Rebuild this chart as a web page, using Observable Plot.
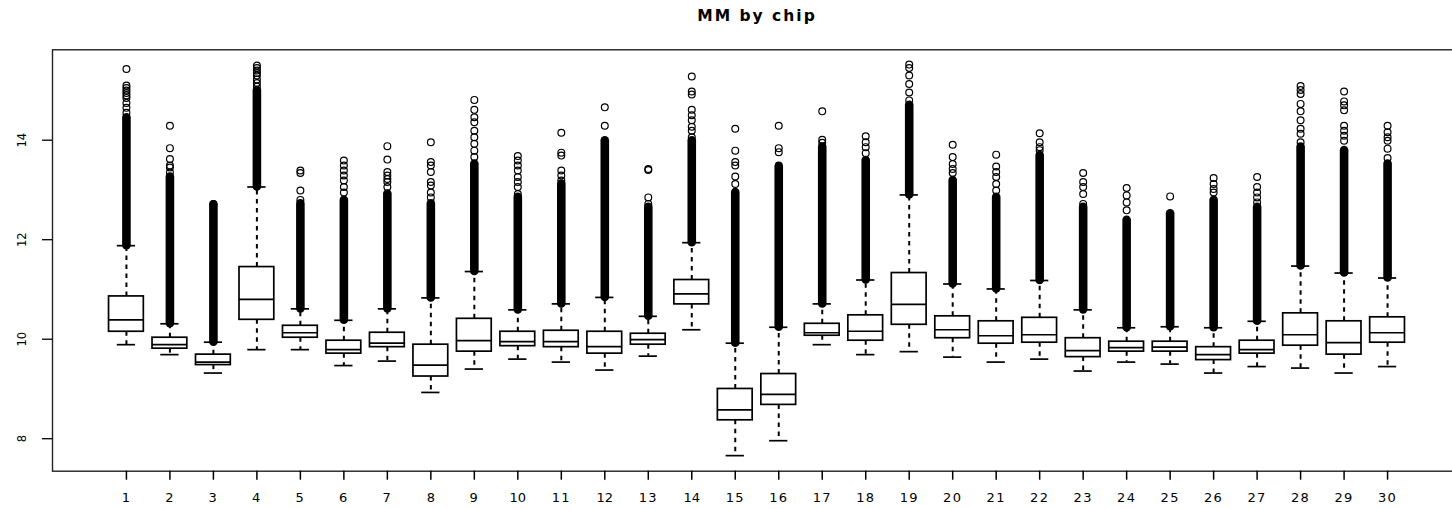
<!DOCTYPE html>
<html>
<head>
<meta charset="utf-8">
<script src="https://cdn.jsdelivr.net/npm/d3@7"></script>
<script src="https://cdn.jsdelivr.net/npm/@observablehq/plot@0.6"></script>
<style>
  html, body { margin: 0; padding: 0; background: #fff; overflow: hidden; }
  #chart svg { display: block; overflow: hidden; }
</style>
</head>
<body>
<div id="chart"></div>
<script>
// MM intensity (log2) summaries per chip
const chips = d3.range(1, 31);
const lowerWhisker = [9.89, 9.69, 9.32, 9.79, 9.79, 9.47, 9.56, 8.93, 9.40, 9.60,
                      9.54, 9.38, 9.66, 10.19, 7.66, 7.96, 9.89, 9.69, 9.75, 9.64,
                      9.54, 9.60, 9.36, 9.54, 9.50, 9.32, 9.45, 9.42, 9.32, 9.45];
const lowerHinge   = [10.15, 9.81, 9.48, 10.39, 10.03, 9.71, 9.84, 9.25, 9.75, 9.86,
                      9.84, 9.71, 9.89, 10.70, 8.37, 8.68, 10.07, 9.97, 10.29, 10.02,
                      9.91, 9.93, 9.64, 9.75, 9.75, 9.58, 9.71, 9.87, 9.69, 9.93];
const median       = [10.39, 9.89, 9.54, 10.80, 10.13, 9.79, 9.92, 9.48, 9.97, 9.95,
                      9.95, 9.85, 9.99, 10.91, 8.58, 8.89, 10.13, 10.16, 10.70, 10.19,
                      10.07, 10.09, 9.77, 9.83, 9.84, 9.69, 9.79, 10.09, 9.93, 10.13];
const upperHinge   = [10.86, 10.03, 9.69, 11.45, 10.27, 9.97, 10.13, 9.89, 10.41, 10.15,
                      10.17, 10.15, 10.11, 11.19, 9.00, 9.30, 10.31, 10.48, 11.33, 10.46,
                      10.36, 10.43, 10.02, 9.95, 9.95, 9.84, 9.97, 10.52, 10.36, 10.44];
const upperWhisker = [11.88, 10.31, 9.94, 13.06, 10.61, 10.38, 10.61, 10.83, 11.36, 10.59,
                      10.71, 10.84, 10.46, 11.94, 9.92, 10.24, 10.71, 11.19, 12.90, 11.11,
                      11.01, 11.18, 10.59, 10.23, 10.25, 10.23, 10.36, 11.47, 11.33, 11.23];
// Outliers are so dense above the whisker that they merge into a solid run up to this value
const denseOutlierTop = [14.45, 13.26, 12.70, 15.00, 12.72, 12.79, 12.92, 12.72, 13.52, 12.85,
                         13.12, 13.99, 12.65, 13.99, 12.95, 13.46, 13.86, 13.59, 14.70, 13.19,
                         12.85, 13.69, 12.65, 12.39, 12.52, 12.79, 12.65, 13.86, 13.79, 13.52];
// Separate outliers above the solid run
const sparseOutliers = [
  [14.55, 14.65, 14.75, 14.85, 14.90, 14.95, 15.00, 15.05, 15.10, 15.43],
  [13.35, 13.45, 13.49, 13.62, 13.84, 14.29],
  [12.72],
  [15.08, 15.15, 15.22, 15.30, 15.35, 15.40, 15.45, 15.50],
  [12.80, 12.99, 13.34, 13.39],
  [12.95, 13.06, 13.19, 13.29, 13.39, 13.49, 13.59],
  [13.06, 13.16, 13.22, 13.29, 13.36, 13.61, 13.88],
  [12.85, 12.95, 13.09, 13.16, 13.36, 13.49, 13.56, 13.96],
  [13.66, 13.79, 13.93, 14.06, 14.19, 14.36, 14.46, 14.61, 14.81],
  [12.92, 13.06, 13.16, 13.26, 13.39, 13.49, 13.59, 13.68],
  [13.19, 13.29, 13.39, 13.69, 13.75, 14.15],
  [14.29, 14.66],
  [12.72, 12.85, 13.40, 13.42],
  [14.06, 14.19, 14.27, 14.40, 14.50, 14.61, 14.92, 14.98, 15.28],
  [13.12, 13.27, 13.49, 13.56, 13.79, 14.23],
  [13.49, 13.76, 13.84, 14.29],
  [13.95, 14.01, 14.58],
  [13.74, 13.86, 13.96, 14.08],
  [14.80, 14.96, 15.13, 15.30, 15.45, 15.52],
  [13.34, 13.42, 13.52, 13.66, 13.91],
  [12.99, 13.12, 13.26, 13.36, 13.47, 13.71],
  [13.80, 13.86, 13.96, 14.14],
  [12.72, 12.92, 13.06, 13.16, 13.34],
  [12.59, 12.75, 12.89, 13.04],
  [12.87],
  [12.95, 13.02, 13.12, 13.24],
  [12.75, 12.85, 12.95, 13.06, 13.26],
  [13.96, 14.13, 14.23, 14.40, 14.58, 14.73, 14.93, 15.01, 15.09],
  [13.99, 14.09, 14.19, 14.29, 14.60, 14.70, 14.78, 14.98],
  [13.64, 13.83, 13.99, 14.06, 14.16, 14.29]
];
const yTicks = [8, 10, 12, 14];
const titleText = "MM by chip";

const rows = chips.map((chip, i) => ({
  chip,
  lo: lowerWhisker[i], q1: lowerHinge[i], med: median[i],
  q3: upperHinge[i], hi: upperWhisker[i], dense: denseOutlierTop[i]
}));
const outlierRows = chips.flatMap((chip, i) => sparseOutliers[i].map(v => ({chip, v})));

const halfBox = 0.4, halfStaple = 0.21;
const lw = 1.7;

const svg = Plot.plot({
  width: 1452,
  height: 509,
  marginLeft: 52,
  marginRight: -9,      // the right edge of the frame falls just past the page
  marginTop: 49.3,
  marginBottom: 38.3,
  x: {domain: [-0.7, 31.7]},
  y: {domain: [7.347, 15.817]},
  style: {fontFamily: "'DejaVu Sans', Verdana, sans-serif", fontSize: "11.5px", background: "white", color: "black"},
  marks: [
    Plot.frame({stroke: "#222", strokeWidth: 1.4}),
    Plot.axisX({ticks: chips, tickSize: 9, tickPadding: 12.5, fontSize: 13, tickFormat: d => String(d), label: null, strokeWidth: 1.5}),
    Plot.axisY({ticks: yTicks, tickSize: 10, tickRotate: -90, tickPadding: 17, tickFormat: d => String(d), label: null, strokeWidth: 1.3}),
    // dashed whiskers
    Plot.ruleX(rows, {x: "chip", y1: "q3", y2: "hi", stroke: "black", strokeWidth: 2, strokeDasharray: "4.5,4.5"}),
    Plot.ruleX(rows, {x: "chip", y1: "q1", y2: "lo", stroke: "black", strokeWidth: 2, strokeDasharray: "4.5,4.5"}),
    // staples
    Plot.ruleY(rows, {y: "hi", x1: d => d.chip - halfStaple, x2: d => d.chip + halfStaple, stroke: "black", strokeWidth: lw}),
    Plot.ruleY(rows, {y: "lo", x1: d => d.chip - halfStaple, x2: d => d.chip + halfStaple, stroke: "black", strokeWidth: lw}),
    // boxes and medians
    Plot.rect(rows, {x1: d => d.chip - halfBox, x2: d => d.chip + halfBox, y1: "q1", y2: "q3", fill: "white", stroke: "black", strokeWidth: lw}),
    Plot.ruleY(rows, {y: "med", x1: d => d.chip - halfBox, x2: d => d.chip + halfBox, stroke: "black", strokeWidth: lw}),
    // outliers: solid run of overlapping circles, then separate circles
    Plot.ruleX(rows, {x: "chip", y1: "hi", y2: "dense", stroke: "black", strokeWidth: 8.6, strokeLinecap: "round"}),
    Plot.dot(outlierRows, {x: "chip", y: "v", r: 3.4, stroke: "black", strokeWidth: 1.2, fill: "none"}),
    Plot.text([titleText], {frameAnchor: "top", dy: -34, lineAnchor: "middle", fontWeight: "bold", fontSize: 15.5})
  ]
});

// widen the lettering a little: bold title and the chip numbers
d3.select(svg).selectAll("text").each(function() {
  const t = this.textContent;
  if (t === titleText) this.setAttribute("letter-spacing", "2px");
  else if (!yTicks.map(String).includes(t)) this.setAttribute("letter-spacing", "1.3px");
});

document.getElementById("chart").appendChild(svg);
</script>
</body>
</html>
